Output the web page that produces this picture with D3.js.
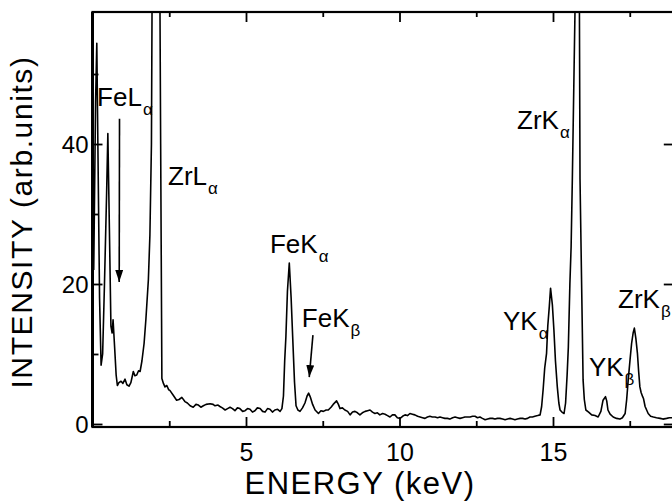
<!DOCTYPE html>
<html>
<head>
<meta charset="utf-8">
<script src="https://cdnjs.cloudflare.com/ajax/libs/d3/7.8.5/d3.min.js"></script>
<style>
  body { margin: 0; background: #fff; }
  svg { display: block; font-family: "Liberation Sans", Arial, Helvetica, sans-serif; }
</style>
</head>
<body>
<div id="chart"></div>
<script>
// EDX spectrum: [energy (keV), intensity (arb. units)]
const spectrum = [
  [0.04, 22], [0.10, 46], [0.14, 54.4], [0.18, 38], [0.23, 18], [0.28, 8.4], [0.33, 10],
  [0.39, 20], [0.46, 33], [0.50, 41.5], [0.55, 28], [0.60, 14], [0.64, 13.0], [0.67, 14.9],
  [0.72, 11], [0.77, 7.0], [0.81, 5.5], [0.86, 5.9], [0.93, 6.1], [0.99, 5.8], [1.06, 6.4],
  [1.12, 5.6], [1.19, 5.4], [1.25, 5.9], [1.33, 7.5], [1.38, 6.9], [1.44, 7.0], [1.50, 7.6],
  [1.55, 7.5], [1.61, 9.0], [1.68, 11.5], [1.74, 15], [1.82, 20.6], [1.87, 27], [1.92, 40],
  [1.95, 70], [2.07, 140], [2.18, 75], [2.22, 40], [2.25, 15], [2.26, 6.5], [2.31, 5.8],
  [2.36, 5.3], [2.42, 5.5], [2.48, 4.9], [2.52, 4.8], [2.63, 4.1], [2.74, 3.4], [2.82, 3.5],
  [2.91, 3.8], [3.01, 3.2], [3.09, 3.0], [3.18, 2.6], [3.28, 2.4], [3.37, 2.8], [3.45, 2.7],
  [3.53, 2.4], [3.61, 2.6], [3.70, 2.8], [3.83, 2.9], [3.93, 2.8], [3.99, 2.6], [4.09, 2.7],
  [4.15, 2.5], [4.23, 2.3], [4.32, 2.0], [4.40, 2.2], [4.48, 2.4], [4.56, 2.2], [4.64, 1.9],
  [4.72, 2.3], [4.80, 2.2], [4.89, 1.8], [4.97, 1.9], [5.05, 2.2], [5.13, 2.1], [5.21, 1.7],
  [5.29, 1.9], [5.37, 2.3], [5.46, 2.2], [5.54, 1.8], [5.62, 1.7], [5.70, 2.2], [5.78, 2.1],
  [5.86, 1.7], [5.94, 2.0], [6.03, 2.1], [6.11, 1.8], [6.17, 2.2], [6.22, 4], [6.26, 9],
  [6.30, 12.5], [6.35, 19], [6.41, 23], [6.47, 18], [6.52, 12.5], [6.58, 6], [6.63, 2.6],
  [6.69, 2.0], [6.76, 1.8], [6.84, 2.3], [6.92, 3.0], [6.99, 4.0], [7.04, 4.4], [7.10, 3.8],
  [7.17, 2.8], [7.25, 2.0], [7.36, 1.5], [7.44, 1.9], [7.52, 1.8], [7.61, 2.0], [7.68, 2.0],
  [7.77, 2.4], [7.84, 2.8], [7.95, 3.3], [8.01, 2.8], [8.06, 2.2], [8.14, 2.3], [8.22, 2.0],
  [8.31, 1.8], [8.39, 1.3], [8.47, 1.7], [8.55, 1.8], [8.63, 1.6], [8.71, 1.3], [8.79, 1.6],
  [8.88, 1.8], [8.96, 1.9], [9.04, 2.0], [9.12, 1.7], [9.20, 1.5], [9.28, 1.6], [9.36, 1.3],
  [9.45, 1.5], [9.53, 1.4], [9.61, 1.2], [9.69, 1.0], [9.77, 1.3], [9.85, 1.3], [9.93, 0.9],
  [10.02, 0.8], [10.10, 1.1], [10.18, 1.3], [10.26, 1.2], [10.34, 1.5], [10.42, 1.4], [10.50, 1.3],
  [10.59, 1.1], [10.67, 1.0], [10.75, 0.9], [10.83, 0.8], [10.91, 1.0], [10.99, 1.1], [11.07, 1.0],
  [11.16, 1.0], [11.24, 0.9], [11.32, 1.0], [11.40, 0.9], [11.48, 0.8], [11.56, 0.8], [11.64, 0.7],
  [11.73, 0.9], [11.81, 1.0], [11.89, 0.9], [11.97, 0.8], [12.05, 0.9], [12.13, 1.0], [12.21, 1.0],
  [12.30, 1.0], [12.38, 1.1], [12.46, 1.1], [12.54, 0.9], [12.62, 1.0], [12.70, 0.8], [12.79, 0.6],
  [12.87, 0.7], [12.95, 0.8], [13.03, 0.8], [13.11, 0.7], [13.19, 0.8], [13.27, 0.8], [13.36, 0.7],
  [13.44, 0.6], [13.52, 0.7], [13.60, 0.8], [13.68, 0.7], [13.76, 0.6], [13.84, 0.7], [13.93, 0.8],
  [14.01, 0.8], [14.09, 0.7], [14.17, 0.8], [14.25, 1.0], [14.33, 1.0], [14.41, 1.1], [14.50, 1.2],
  [14.58, 1.3], [14.63, 2.5], [14.68, 5], [14.73, 8], [14.79, 10.1], [14.83, 14], [14.88, 16.8],
  [14.92, 19.4], [14.98, 17], [15.03, 13.4], [15.08, 9], [15.14, 5.3], [15.19, 3], [15.23, 2.0],
  [15.29, 1.7], [15.36, 1.5], [15.41, 3], [15.46, 7], [15.50, 11], [15.55, 20], [15.59, 25.3],
  [15.63, 35], [15.72, 60], [15.79, 95], [15.86, 60], [15.88, 35], [15.93, 20.6], [15.98, 6.3],
  [16.02, 3.5], [16.07, 2.0], [16.16, 1.7], [16.26, 1.3], [16.37, 1.2], [16.47, 1.0], [16.56, 1.8],
  [16.63, 3.4], [16.71, 3.9], [16.75, 3.3], [16.79, 2.0], [16.86, 1.4], [16.96, 1.0], [17.07, 0.8],
  [17.18, 0.7], [17.26, 0.9], [17.35, 1.5], [17.40, 3.5], [17.45, 6.3], [17.51, 9.2], [17.56, 11.5],
  [17.61, 13], [17.65, 13.7], [17.70, 12.2], [17.75, 10.1], [17.79, 7.5], [17.83, 5.3], [17.87, 4.5],
  [17.92, 3.9], [17.95, 3.6], [18.00, 2.5], [18.05, 2.0], [18.10, 1.5], [18.18, 1.1], [18.27, 1.0],
  [18.37, 0.9], [18.49, 0.8], [18.58, 0.7], [18.70, 0.8], [18.79, 0.9], [18.89, 0.9]
];

const xTicksMajor = [5, 10, 15];
const xTicksMinor = [2.5, 7.5, 12.5, 17.5];
const yTicksMajor = [0, 20, 40];
const yTicksMinor = [10, 30, 50];

// peak labels: element/line, greek subscript, anchor (keV, intensity)
const labelMain = ["FeL", "ZrL", "FeK", "FeK", "ZrK", "YK", "YK", "ZrK"];
const labelSub = ["α", "α", "α", "β", "α", "α", "β", "β"];
const labelE = [0.15, 2.46, 5.78, 6.82, 13.83, 13.37, 16.17, 17.12];
const labelI = [45.4, 34.1, 24.5, 13.8, 42.1, 13.4, 6.8, 16.6];

// arrows: [keV, intensity] start -> tip
const arrowFrom = [[0.88, 43.6], [7.18, 12.7]];
const arrowTo = [[0.87, 20.3], [7.06, 6.7]];

const width = 672, height = 502;
const margin = { left: 92.5, right: 675.8, top: 12, bottom: 427 };

const svg = d3.select("#chart").append("svg")
    .attr("width", width)
    .attr("height", height);

const x = d3.scaleLinear().domain([0, 19]).range([margin.left, margin.right]);
const y = d3.scaleLinear().domain([-0.43, 58.86]).range([margin.bottom, margin.top]);

const defs = svg.append("defs");

defs.append("clipPath")
    .attr("id", "plotClip")
  .append("rect")
    .attr("x", margin.left).attr("y", margin.top)
    .attr("width", margin.right - margin.left).attr("height", margin.bottom - margin.top);

defs.append("marker")
    .attr("id", "arrowHead")
    .attr("viewBox", "0 0 12 8")
    .attr("refX", 12).attr("refY", 4)
    .attr("markerWidth", 12).attr("markerHeight", 8)
    .attr("markerUnits", "userSpaceOnUse")
    .attr("orient", "auto")
  .append("path")
    .attr("d", "M0,0L12,4L0,8Z")
    .attr("fill", "#000");

// spectrum line
const line = d3.line()
    .x(d => x(d[0]))
    .y(d => y(d[1]));

svg.append("path")
    .datum(spectrum)
    .attr("clip-path", "url(#plotClip)")
    .attr("fill", "none")
    .attr("stroke", "#000")
    .attr("stroke-width", 1.6)
    .attr("stroke-linejoin", "round")
    .attr("d", line);

// axes, ticks inward
function styleAxis(g) {
    g.select(".domain").remove();
    g.selectAll(".tick line").attr("stroke", "#000").attr("stroke-width", 1.8);
    g.selectAll("text").attr("fill", "#000").attr("font-family", null);
}

svg.append("g")
    .attr("transform", `translate(0,${margin.bottom})`)
    .call(d3.axisBottom(x).tickValues(xTicksMajor).tickSize(-10).tickPadding(16))
    .call(styleAxis)
    .call(g => g.selectAll("text").attr("font-size", 25));

svg.append("g")
    .attr("transform", `translate(0,${margin.bottom})`)
    .call(d3.axisBottom(x).tickValues(xTicksMinor).tickSize(-6).tickFormat(""))
    .call(styleAxis);

svg.append("g")
    .attr("transform", `translate(0,${margin.top})`)
    .call(d3.axisTop(x).tickValues(xTicksMajor).tickSize(-10).tickFormat(""))
    .call(styleAxis);

svg.append("g")
    .attr("transform", `translate(0,${margin.top})`)
    .call(d3.axisTop(x).tickValues(xTicksMinor).tickSize(-5).tickFormat(""))
    .call(styleAxis);

svg.append("g")
    .attr("transform", `translate(${margin.left},0)`)
    .call(d3.axisLeft(y).tickValues(yTicksMajor).tickSize(-10).tickPadding(4))
    .call(styleAxis)
    .call(g => g.selectAll("text").attr("font-size", 24).attr("dy", "0.37em"));

svg.append("g")
    .attr("transform", `translate(${margin.left},0)`)
    .call(d3.axisLeft(y).tickValues(yTicksMinor).tickSize(-6).tickFormat(""))
    .call(styleAxis);

// right axis sits just past the window edge; only major ticks reach in
svg.append("g")
    .attr("transform", `translate(${margin.right},0)`)
    .call(d3.axisRight(y).tickValues(yTicksMajor).tickSize(-12).tickFormat(""))
    .call(styleAxis);

// frame
svg.append("rect")
    .attr("x", margin.left).attr("y", margin.top)
    .attr("width", margin.right - margin.left).attr("height", margin.bottom - margin.top)
    .attr("fill", "none")
    .attr("stroke", "#000")
    .attr("stroke-width", 2.2);

svg.append("line")
    .attr("x1", margin.left).attr("x2", margin.left)
    .attr("y1", margin.top).attr("y2", margin.bottom)
    .attr("stroke", "#000")
    .attr("stroke-width", 3);

// peak labels
const labels = svg.append("g")
    .selectAll("text")
    .data(labelMain.map((m, i) => ({ main: m, sub: labelSub[i], e: labelE[i], v: labelI[i] })))
    .join("text")
    .attr("x", d => x(d.e))
    .attr("y", d => y(d.v))
    .attr("font-size", 26)
    .attr("fill", "#000");

labels.append("tspan").text(d => d.main);
labels.append("tspan")
    .attr("dy", 9)
    .attr("dx", 1)
    .attr("font-size", 17)
    .text(d => d.sub);

// arrows
svg.append("g")
    .selectAll("line")
    .data(arrowFrom.map((f, i) => ({ from: f, to: arrowTo[i] })))
    .join("line")
    .attr("x1", d => x(d.from[0]))
    .attr("y1", d => y(d.from[1]))
    .attr("x2", d => x(d.to[0]))
    .attr("y2", d => y(d.to[1]))
    .attr("stroke", "#000")
    .attr("stroke-width", 1.6)
    .attr("marker-end", "url(#arrowHead)");

// axis titles
svg.append("text")
    .attr("x", 360)
    .attr("y", 494)
    .attr("text-anchor", "middle")
    .attr("font-size", 31)
    .attr("letter-spacing", 1.5)
    .text("ENERGY (keV)");

svg.append("text")
    .attr("transform", "translate(32,222) rotate(-90)")
    .attr("text-anchor", "middle")
    .attr("font-size", 30)
    .attr("letter-spacing", 1.6)
    .text("INTENSITY (arb.units)");
</script>
</body>
</html>
